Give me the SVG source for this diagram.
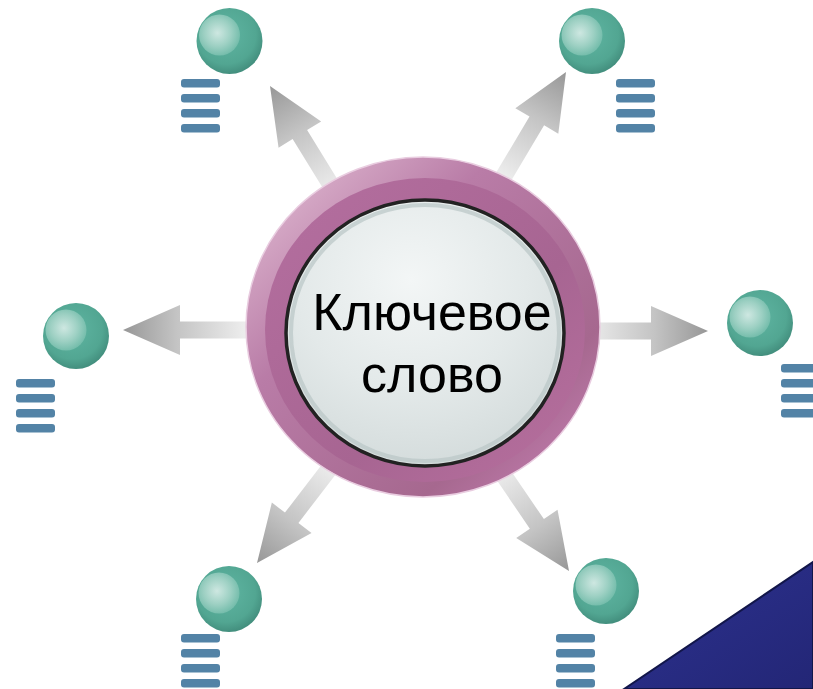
<svg xmlns="http://www.w3.org/2000/svg" width="813" height="689" viewBox="0 0 813 689">
<defs>
<style>
.bar{fill:#5383a6}
.arrow{fill:url(#arrG)}
.label{font-family:"Liberation Sans",Arial,sans-serif;font-size:52px;fill:#000;text-anchor:middle}
</style>
<linearGradient id="arrG" gradientUnits="userSpaceOnUse" x1="-120" y1="0" x2="0" y2="0">
<stop offset="0" stop-color="#ececec"/>
<stop offset="0.55" stop-color="#c4c4c4"/>
<stop offset="1" stop-color="#979797"/>
</linearGradient>
<radialGradient id="ballG" cx="0.45" cy="0.4" r="0.6">
<stop offset="0" stop-color="#5fb5a2"/>
<stop offset="0.75" stop-color="#52a692"/>
<stop offset="1" stop-color="#438f7e"/>
</radialGradient>
<radialGradient id="hiG" cx="0.45" cy="0.45" r="0.55">
<stop offset="0" stop-color="#e2f1ed"/>
<stop offset="0.6" stop-color="#a9d6ca"/>
<stop offset="1" stop-color="#7cc1b0"/>
</radialGradient>
<linearGradient id="ringG" x1="0" y1="0" x2="1" y2="1">
<stop offset="0" stop-color="#e6c4d8"/>
<stop offset="0.35" stop-color="#b97ca7"/>
<stop offset="0.75" stop-color="#a6688f"/>
<stop offset="1" stop-color="#cc84ba"/>
</linearGradient>
<linearGradient id="bandG" x1="0" y1="0" x2="1" y2="1">
<stop offset="0" stop-color="#b56fa0"/>
<stop offset="0.6" stop-color="#a76592"/>
<stop offset="1" stop-color="#b8709f"/>
</linearGradient>
<radialGradient id="lensG" cx="0.45" cy="0.3" r="0.75">
<stop offset="0" stop-color="#f3f6f6"/>
<stop offset="0.55" stop-color="#e3e9e9"/>
<stop offset="1" stop-color="#d2dada"/>
</radialGradient>
<linearGradient id="seaG" x1="0" y1="0" x2="1" y2="1">
<stop offset="0" stop-color="#2d3290"/>
<stop offset="1" stop-color="#232676"/>
</linearGradient>
<g id="ball">
<circle r="33" fill="url(#ballG)"/>
<circle cx="-10" cy="-6" r="20.5" fill="url(#hiG)" opacity="0.85"/>
</g>
<g id="list">
<rect class="bar" x="0" y="0" width="39" height="8.5" rx="3"/>
<rect class="bar" x="0" y="15" width="39" height="8.5" rx="3"/>
<rect class="bar" x="0" y="30" width="39" height="8.5" rx="3"/>
<rect class="bar" x="0" y="45" width="39" height="8.5" rx="3"/>
</g>
<polygon id="arr" class="arrow" points="0,0 -57,-25 -57,-8.5 -190,-8.5 -190,8.5 -57,8.5 -57,25"/>
</defs>
<rect width="813" height="689" fill="#ffffff"/>
<g id="corner">
<path d="M 624 689 Q 720 624 813 562 L 813 689 Z" fill="url(#seaG)" stroke="#12164a" stroke-width="2"/>
</g>
<g id="connectors">
<use href="#arr" transform="translate(270,86) rotate(-121.6)"/>
<use href="#arr" transform="translate(566,72) rotate(-59.2)"/>
<use href="#arr" transform="translate(123,330) rotate(180)"/>
<use href="#arr" transform="translate(708,331) rotate(0)"/>
<use href="#arr" transform="translate(257,563) rotate(127.5)"/>
<use href="#arr" transform="translate(569,571) rotate(55.7)"/>
</g>
<g id="center">
<ellipse cx="423" cy="327" rx="177" ry="170" fill="url(#ringG)" stroke="#e9cde0" stroke-width="1.5"/>
<ellipse cx="425" cy="330" rx="160" ry="152" fill="url(#bandG)"/>
<ellipse cx="425" cy="333" rx="139" ry="133" fill="url(#lensG)" stroke="#222" stroke-width="3.5"/>
<ellipse cx="425" cy="333" rx="134" ry="128" fill="none" stroke="#b9c6c6" stroke-width="4" opacity="0.7"/>
<text class="label" x="432" y="330">Ключевое</text>
<text class="label" x="432" y="392">слово</text>
</g>
<g id="node-top-left">
<use href="#ball" x="229.5" y="41"/>
<use href="#list" x="181" y="79"/>
</g>
<g id="node-top-right">
<use href="#ball" x="592" y="41"/>
<use href="#list" x="616" y="79"/>
</g>
<g id="node-left">
<use href="#ball" x="76" y="336"/>
<use href="#list" x="16" y="379"/>
</g>
<g id="node-right">
<use href="#ball" x="760" y="323"/>
<use href="#list" x="781" y="364"/>
</g>
<g id="node-bottom-left">
<use href="#ball" x="229" y="599"/>
<use href="#list" x="181" y="634"/>
</g>
<g id="node-bottom-right">
<use href="#ball" x="606" y="591"/>
<use href="#list" x="556" y="634"/>
</g>
</svg>
